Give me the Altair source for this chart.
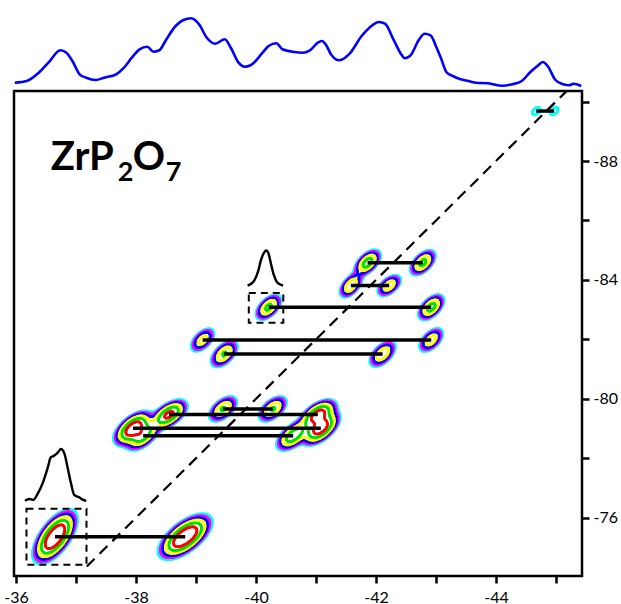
import numpy as np
import pandas as pd
import altair as alt

# ---------------- data ----------------
# correlation pairs: SQ shift of the two partners and the DQ shift (ppm)
pair_sq1 = [-36.65, -37.95, -38.12, -38.55, -39.45, -39.11, -39.47, -40.21, -41.58, -41.86, -44.67]
pair_sq2 = [-38.82, -41.08, -40.62, -41.03, -40.28, -42.92, -42.11, -42.92, -42.22, -42.78, -44.97]
pair_dq = [-75.36, -79.01, -78.76, -79.47, -79.66, -81.98, -81.51, -83.08, -83.81, -84.58, -89.68]
# relative peak heights of the two cross peaks of each pair
amp1 = [1.0, 0.85, 0.50, 0.70, 0.42, 0.33, 0.42, 0.45, 0.40, 0.50, 0.10]
amp2 = [1.0, 0.80, 0.55, 0.75, 0.42, 0.35, 0.38, 0.48, 0.36, 0.45, 0.10]
# peak widths (ppm) along / across the long axis and orientation (deg)
sig_along = [0.24, 0.18, 0.17, 0.17, 0.15, 0.14, 0.15, 0.14, 0.13, 0.14, 0.12]
sig_across = [0.11, 0.09, 0.085, 0.085, 0.08, 0.075, 0.08, 0.075, 0.07, 0.075, 0.07]
ang1 = [54, 40, 40, 35, 40, 45, 45, 45, 50, 45, 45]
ang2 = [38, 40, 40, 35, 40, 45, 45, 45, 40, 45, 45]

# contour levels (fraction of max) and their colours
level_names = ["L1", "L2", "L3", "L4", "L5", "L6"]
level_vals = [0.08, 0.12, 0.175, 0.26, 0.40, 0.62]
level_colors = ["#00FFFF", "#FF00FF", "#0000FF", "#FFFF00", "#00E000", "#FF0000"]

# F2 (SQ) projection shown on top (arbitrary intensity units)
proj_x = [-35.98, -36.18, -36.38, -36.54, -36.74, -36.84, -36.94, -37.06, -37.17, -37.33,
          -37.47, -37.67, -37.80, -37.93, -38.06, -38.19, -38.29, -38.39, -38.49, -38.66,
          -38.79, -38.92, -39.05, -39.18, -39.32, -39.48, -39.58, -39.71, -39.81, -39.91,
          -40.11, -40.21, -40.34, -40.44, -40.64, -40.77, -40.90, -41.03, -41.10, -41.16,
          -41.26, -41.39, -41.56, -41.76, -41.89, -42.05, -42.15, -42.29, -42.42, -42.48,
          -42.58, -42.71, -42.81, -42.91, -43.01, -43.08, -43.18, -43.28, -43.41, -43.54,
          -43.67, -43.87, -44.10, -44.27, -44.43, -44.56, -44.69, -44.78, -44.86, -44.99,
          -45.12, -45.22, -45.29, -45.42]
proj_I = [6.3, 8.0, 16.3, 26.3, 38.7, 36.3, 28.0, 14.7, 11.3, 9.0,
          11.3, 14.7, 21.3, 31.3, 39.7, 42.3, 37.3, 38.7, 48.0, 63.0,
          69.0, 70.7, 64.7, 51.3, 45.3, 49.7, 41.3, 26.3, 22.3, 23.7,
          36.3, 43.0, 45.7, 39.7, 37.0, 36.3, 38.7, 46.3, 48.0, 44.7,
          33.7, 28.7, 35.3, 53.0, 61.3, 67.0, 65.3, 49.7, 34.7, 30.7,
          34.0, 48.7, 55.3, 53.7, 41.3, 31.3, 16.3, 13.0, 9.7, 8.0,
          6.3, 5.7, 3.3, 4.7, 8.0, 16.3, 23.0, 27.0, 23.0, 9.0,
          4.7, 3.7, 5.3, 3.0]

# small 1D slices drawn above the dashed boxes
slice1_x = [-36.15, -36.22, -36.29, -36.36, -36.45, -36.53, -36.58, -36.64, -36.70, -36.75,
            -36.81, -36.86, -36.92, -36.97, -37.06, -37.11, -37.17]
slice1_y = [-76.57, -76.63, -76.60, -76.80, -77.19, -77.69, -78.03, -78.09, -78.20, -78.31,
            -78.14, -77.69, -77.13, -76.77, -76.68, -76.61, -76.57]
slice2_x = [-39.86, -39.92, -39.97, -40.04, -40.08, -40.13, -40.17, -40.21, -40.25, -40.30,
            -40.35, -40.42, -40.45]
slice2_y = [-83.81, -83.87, -83.98, -84.32, -84.65, -84.90, -84.99, -84.88, -84.54, -84.15,
            -83.92, -83.83, -83.81]

# dashed boxes
box_x1 = [-36.175, -39.88]
box_x2 = [-37.175, -40.455]
box_y1 = [-76.30, -83.56]
box_y2 = [-74.42, -82.56]

# diagonal (DQ = 2 x SQ) end points in SQ
diag_sq = [-37.18, -45.18]

X_DOMAIN = [-35.967, -45.433]
Y_DOMAIN = [-74.04, -90.355]
# projection intensity scale: places the trace in the strip above the frame
P_DOMAIN = [-487, -2]

# ---------------- contour computation ----------------
us = np.arange(35.95, 45.46, 0.03)
vs = np.arange(37.0, 45.2, 0.03)
U, V = np.meshgrid(us, vs)
F = np.zeros_like(U)
for k in range(len(pair_dq)):
    for sq, a, ang in ((pair_sq1[k], amp1[k], ang1[k]), (pair_sq2[k], amp2[k], ang2[k])):
        th = np.radians(ang)
        du = U - (-sq)
        dv = V - (-pair_dq[k] / 2.0)
        p = du * np.cos(th) + dv * np.sin(th)
        q = -du * np.sin(th) + dv * np.cos(th)
        F += a * np.exp(-0.5 * ((p / sig_along[k]) ** 2 + (q / sig_across[k]) ** 2))

TABLE = {1: [(3, 0)], 2: [(0, 1)], 3: [(3, 1)], 4: [(1, 2)], 5: [(3, 0), (1, 2)],
         6: [(0, 2)], 7: [(3, 2)], 8: [(2, 3)], 9: [(0, 2)], 10: [(0, 1), (2, 3)],
         11: [(1, 2)], 12: [(1, 3)], 13: [(0, 1)], 14: [(3, 0)]}

rows = []
for name, lev in zip(level_names, level_vals):
    B = F > lev
    idx = (B[:-1, :-1] * 1 + B[:-1, 1:] * 2 + B[1:, 1:] * 4 + B[1:, :-1] * 8)
    ii, jj = np.nonzero((idx > 0) & (idx < 15))
    for i, j in zip(ii, jj):
        c = [(us[j], vs[i], F[i, j]), (us[j + 1], vs[i], F[i, j + 1]),
             (us[j + 1], vs[i + 1], F[i + 1, j + 1]), (us[j], vs[i + 1], F[i + 1, j])]

        def ept(e):
            a = c[e]
            b = c[(e + 1) % 4]
            t = (lev - a[2]) / (b[2] - a[2])
            return a[0] + t * (b[0] - a[0]), a[1] + t * (b[1] - a[1])

        for e1, e2 in TABLE[int(idx[i, j])]:
            p1 = ept(e1)
            p2 = ept(e2)
            rows.append((round(-p1[0], 3), round(-2 * p1[1], 3),
                         round(-p2[0], 3), round(-2 * p2[1], 3), name))
seg_df = pd.DataFrame(rows, columns=["x", "y", "x2", "y2", "level"])

# ---------------- chart ----------------
xs = alt.Scale(domain=X_DOMAIN, nice=False, zero=False)
ys = alt.Scale(domain=Y_DOMAIN, nice=False, zero=False)
FONT = "Lato"
x_axis = alt.Axis(values=list(range(-36, -46, -1)),
                  labelExpr="datum.value % 2 == 0 ? '-' + abs(datum.value) : ''",
                  domain=False, grid=False, tickSize=7, tickWidth=2.5, tickColor="black",
                  labelFont=FONT, labelFontSize=16, labelColor="black", labelPadding=6,
                  labelOverlap=False, labelBound=False, title=None, orient="bottom")
y_axis = alt.Axis(values=list(range(-76, -92, -2)),
                  labelExpr="datum.value % 4 == 0 ? '-' + abs(datum.value) : ''",
                  domain=False, grid=False, tickSize=7, tickWidth=2.5, tickColor="black",
                  labelFont=FONT, labelFontSize=16, labelColor="black", labelPadding=4,
                  labelOverlap=False, labelBound=False, title=None, orient="right")

contours = alt.Chart(seg_df).mark_rule(strokeWidth=2.7, strokeCap="round").encode(
    x=alt.X("x:Q", scale=xs, axis=x_axis),
    x2="x2:Q",
    y=alt.Y("y:Q", scale=ys, axis=y_axis),
    y2="y2:Q",
    color=alt.Color("level:N", scale=alt.Scale(domain=level_names, range=level_colors), legend=None),
)

diag_df = pd.DataFrame({"x": diag_sq, "y": [2 * v for v in diag_sq]})
diag = alt.Chart(diag_df).mark_line(color="black", strokeWidth=2.2, strokeDash=[11, 7]).encode(
    x=alt.X("x:Q", scale=xs, axis=x_axis), y=alt.Y("y:Q", scale=ys, axis=y_axis))

conn_df = pd.DataFrame({"x": pair_sq1, "x2": pair_sq2, "y": pair_dq})
conn = alt.Chart(conn_df).mark_rule(color="black", strokeWidth=3.5).encode(
    x=alt.X("x:Q", scale=xs, axis=x_axis), x2="x2:Q", y=alt.Y("y:Q", scale=ys, axis=y_axis))

box_df = pd.DataFrame({"x": box_x1, "x2": box_x2, "y": box_y1, "y2": box_y2})
boxes = alt.Chart(box_df).mark_rect(fillOpacity=0, stroke="black", strokeWidth=2, strokeDash=[7, 5]).encode(
    x=alt.X("x:Q", scale=xs, axis=x_axis), x2="x2:Q",
    y=alt.Y("y:Q", scale=ys, axis=y_axis), y2="y2:Q")

sl_df = pd.DataFrame({"x": slice1_x + slice2_x, "y": slice1_y + slice2_y,
                      "s": ["a"] * len(slice1_x) + ["b"] * len(slice2_x),
                      "o": list(range(len(slice1_x))) + list(range(len(slice2_x)))})
slices = alt.Chart(sl_df).mark_line(color="black", strokeWidth=2.4, interpolate="monotone").encode(
    x=alt.X("x:Q", scale=xs, axis=x_axis), y=alt.Y("y:Q", scale=ys, axis=y_axis),
    detail="s:N", order="o:Q")

one = pd.DataFrame({"k": [0]})
tx = -36.58
ty = -87.70
def piece(text, size, dx, dy):
    return alt.Chart(one).mark_text(text=text, font=FONT, fontSize=size, fontWeight="bold",
                                    align="left", baseline="alphabetic", dx=dx, dy=dy,
                                    color="black").encode(
        x=alt.datum(tx, scale=xs), y=alt.datum(ty, scale=ys))

label = piece("ZrP", 40, 0, 0) + piece("2", 27, 67, 11) + piece("O", 40, 82, 0) + piece("7", 27, 115, 11)

main = alt.layer(contours, diag, conn, boxes, slices, label)

proj_df = pd.DataFrame({"x": proj_x, "I": proj_I})
proj = alt.Chart(proj_df).mark_line(color="#0000FF", strokeWidth=2.6, interpolate="monotone",
                                    clip=False).encode(
    x=alt.X("x:Q", scale=xs, axis=x_axis),
    y=alt.Y("I:Q", scale=alt.Scale(domain=P_DOMAIN, nice=False, zero=False), axis=None),
)

chart = alt.layer(main, proj).resolve_scale(y="independent").properties(
    width=568, height=485,
    padding={"left": 3, "top": 13, "right": 0, "bottom": 0},
    background="white",
).configure_view(stroke="black", strokeWidth=2.5)

chart.save("out.html", embed_options={"renderer": "svg", "actions": False})
